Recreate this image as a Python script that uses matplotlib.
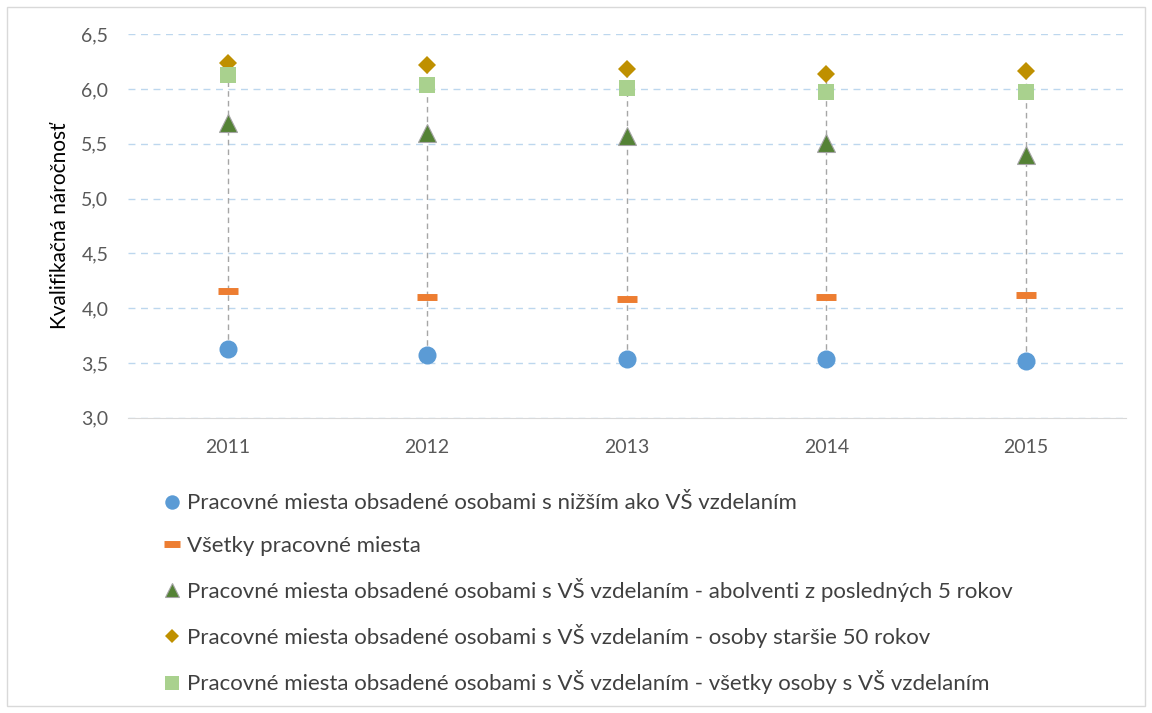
import matplotlib.pyplot as plt
from matplotlib.patches import Rectangle

plt.rcParams['font.family'] = ['Lato', 'DejaVu Sans']

years = ['2011', '2012', '2013', '2014', '2015']
nizsie = [3.63, 3.57, 3.54, 3.54, 3.52]
vsetky = [4.16, 4.10, 4.08, 4.10, 4.12]
absolventi = [5.69, 5.60, 5.57, 5.51, 5.40]
starsie50 = [6.24, 6.22, 6.18, 6.14, 6.16]
vs_vsetci = [6.13, 6.04, 6.01, 5.97, 5.97]

labels = [
    'Pracovné miesta obsadené osobami s nižším ako VŠ vzdelaním',
    'Všetky pracovné miesta',
    'Pracovné miesta obsadené osobami s VŠ vzdelaním - abolventi z posledných 5 rokov',
    'Pracovné miesta obsadené osobami s VŠ vzdelaním - osoby staršie 50 rokov',
    'Pracovné miesta obsadené osobami s VŠ vzdelaním - všetky osoby s VŠ vzdelaním',
]

fig = plt.figure(figsize=(11.52, 7.13), dpi=100)
ax = fig.add_axes([0.111, 0.414, 0.866, 0.538])
fig.patches.append(Rectangle((0.006, 0.01), 0.988, 0.98, transform=fig.transFigure,
                             fill=False, edgecolor='#d9d9d9', linewidth=1))

x = range(len(years))
series = [nizsie, vsetky, absolventi, starsie50, vs_vsetci]

# high-low lines
lows = [min(v) for v in zip(*series)]
highs = [max(v) for v in zip(*series)]
ax.vlines(x, lows, highs, colors='#a6a6a6', linestyles=(0, (4, 3)), linewidth=1, zorder=2)

ax.plot(x, nizsie, 'o', color='#5b9bd5', markersize=13, markeredgewidth=0, label=labels[0], zorder=3)
ax.plot(x, vsetky, '_', color='#ed7d31', markersize=15, markeredgewidth=5, label=labels[1], zorder=3)
ax.plot(x, absolventi, '^', color='#548235', markeredgecolor='#a5a5a5', markeredgewidth=0.8,
        markersize=13, label=labels[2], zorder=3)
ax.plot(x, starsie50, 'D', color='#bf9000', markersize=9, markeredgewidth=0, label=labels[3], zorder=3)
ax.plot(x, vs_vsetci, 's', color='#a9d18e', markersize=12, markeredgewidth=0, label=labels[4], zorder=3)

ax.set_xlim(-0.5, 4.5)
ax.set_ylim(3.0, 6.5)
ax.set_xticks(list(x))
ax.set_xticklabels(years)
yt = [3.0, 3.5, 4.0, 4.5, 5.0, 5.5, 6.0, 6.5]
ax.set_yticks(yt)
ax.set_yticklabels([f'{v:.1f}'.replace('.', ',') for v in yt])
ax.tick_params(length=0, labelsize=14, colors='#595959', pad=14)
ax.tick_params(axis='x', pad=15)
ax.yaxis.grid(True, color='#bdd7ee', linestyle=(0, (5, 4)), linewidth=1)
ax.set_axisbelow(True)
for s in ['top', 'right', 'left']:
    ax.spines[s].set_visible(False)
ax.spines['bottom'].set_color('#d9d9d9')
ax.set_ylabel('Kvalifikačná náročnosť', fontsize=15, color='black', labelpad=8)

fig.legend(loc='upper left', bbox_to_anchor=(0.142, 0.308), frameon=False, fontsize=16,
           labelspacing=1.0, handletextpad=0.25, handlelength=0.8, labelcolor='#404040',
           borderaxespad=0, borderpad=0, markerscale=0.8)

fig.savefig('out.png', dpi=100)
